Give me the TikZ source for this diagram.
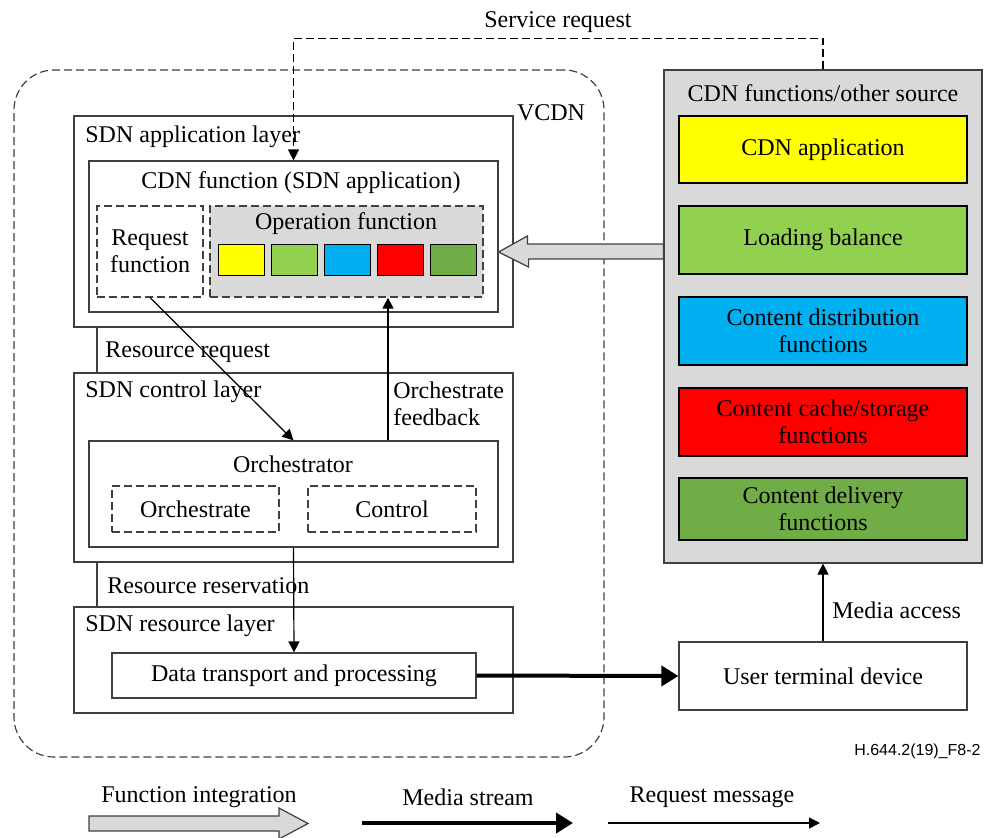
\documentclass[tikz,border=0pt]{standalone}
\usepackage{fontspec}
\setmainfont{Liberation Serif}
\newfontfamily\figsans{Liberation Sans}
\usetikzlibrary{arrows.meta,fit}
\definecolor{boxGrey}{RGB}{217,217,217}
\definecolor{lineGrey}{RGB}{64,64,64}
\definecolor{fnYellow}{RGB}{255,255,0}
\definecolor{fnLight}{RGB}{146,208,80}
\definecolor{fnCyan}{RGB}{0,176,240}
\definecolor{fnRed}{RGB}{255,0,0}
\definecolor{fnGreen}{RGB}{112,173,71}

\begin{document}
\begin{tikzpicture}[x=0.5pt,y=-0.5pt,
    font=\fontsize{12}{13.5}\selectfont,
    box/.style={draw=lineGrey, line width=0.6pt, inner sep=0pt},
    dbox/.style={box, dash pattern=on 4pt off 2pt},
    txt/.style={inner sep=0pt, align=center},
    req/.style={-{Triangle[length=5.5pt,width=5.5pt]}, line width=0.6pt},
    media/.style={-{Triangle[length=8.5pt,width=10pt]}, line width=2pt},
    intarrow/.style={draw=lineGrey, fill=boxGrey, line width=0.6pt}]
  \useasboundingbox (0,0) rectangle (984,837);

  \node[dbox, rounded corners=20pt, fit={(14,70)(604,757)}] (vcdn) {};
  \node[txt] (vcdnlbl) at (551,113) {VCDN};

  \node[box, fit={(74,116)(513,327)}] (applayer) {};
  \node[txt, anchor=west] (applbl) at (85,137) {SDN application layer};
  \node[box, fit={(89,161)(498,312)}] (cdnfunc) {};
  \node[txt] (cdnlbl) at (301,183) {CDN function (SDN application)};
  \node[dbox, fit={(97,206)(203,297)}] (reqfunc) {};
  \node[txt] (reqlbl) at (reqfunc.center) {Request\\function};
  \node[dbox, fill=boxGrey, fit={(210,206)(483,297)}] (opfunc) {};
  \node[txt] (oplbl) at (346,224) {Operation function};
  \foreach \c [count=\i from 0] in {fnYellow,fnLight,fnCyan,fnRed,fnGreen}
    \node[box, draw=black, fill=\c, minimum width=23pt, minimum height=15.5pt,
      anchor=north west] (op\i) at (218+53*\i,244) {};

  \node[box, fit={(74,373)(513,562)}] (ctrllayer) {};
  \node[txt, anchor=west] (ctrllbl) at (85,392) {SDN control layer};
  \node[box, fit={(89,441)(498,547)}] (orch) {};
  \node[txt] (orchlbl) at (293,464) {Orchestrator};
  \node[dbox, fit={(112,486)(279,532)}] (orchest) {};
  \node[txt] (orchestlbl) at (orchest.center) {Orchestrate};
  \node[dbox, fit={(308,486)(476,532)}] (ctrl) {};
  \node[txt] (ctrllbl2) at (ctrl.center) {Control};

  \node[box, fit={(74,607)(513,713)}] (reslayer) {};
  \node[txt, anchor=west] (reslbl) at (85,626) {SDN resource layer};
  \node[box, fit={(112,653)(476,698)}] (dtp) {};
  \node[txt] (dtplbl) at (dtp.center) {Data transport and processing};

  \node[box, fill=boxGrey, fit={(664,70)(982,563)}] (cdnsrc) {};
  \node[txt] (srclbl) at (823,93) {CDN functions/other source};
  \node[box, draw=black, fill=fnYellow, fit={(679,116)(967,183)}] (fapp) {};
  \node[txt] (fapplbl) at (fapp.center) {CDN application};
  \node[box, draw=black, fill=fnLight, fit={(679,206)(967,274)}] (fbal) {};
  \node[txt] (fballbl) at (fbal.center) {Loading balance};
  \node[box, draw=black, fill=fnCyan, fit={(679,297)(967,365)}] (fdist) {};
  \node[txt] (fdistlbl) at (fdist.center) {Content distribution\\functions};
  \node[box, draw=black, fill=fnRed, fit={(679,388)(967,456)}] (fcache) {};
  \node[txt] (fcachelbl) at (fcache.center) {Content cache/storage\\functions};
  \node[box, draw=black, fill=fnGreen, fit={(679,478)(967,540)}] (fdel) {};
  \node[txt] (fdellbl) at (fdel.center) {Content delivery\\functions};

  \node[box, fit={(679,642)(967,710)}] (userdev) {};
  \node[txt] (userlbl) at (userdev.center) {User terminal device};

  \draw[req, dash pattern=on 4pt off 2pt] (cdnsrc.north) -- ++(0,-31) -| (cdnfunc.north);
  \node[txt] (svclbl) at (558,22) {Service request};

  \draw[intarrow] (cdnsrc.west |- 0,244) -- ++(-136,0) -- ++(0,-8)
    -- (cdnfunc.east |- 0,252) -- ++(30,15) -- ++(0,-8) -- (cdnsrc.west |- 0,259) -- cycle;

  \draw[req] (reqfunc.south) -- (orch.north);
  \node[txt, anchor=west] (rrlbl) at (105,352) {Resource request};

  \coordinate (fb) at (388,0);
  \draw[req] (orch.north -| fb) -- (opfunc.south -| fb);
  \node[txt, anchor=west, align=left] (fblbl) at (393,404) {Orchestrate\\feedback};

  \draw[req] (orch.south) -- (dtp.north);
  \node[txt, anchor=west] (rsvlbl) at (107,586) {Resource reservation};

  \coordinate (lk) at (97,0);
  \draw[lineGrey, line width=0.6pt] (applayer.south -| lk) -- (ctrllayer.north -| lk);
  \draw[lineGrey, line width=0.6pt] (ctrllayer.south -| lk) -- (reslayer.north -| lk);

  \draw[media] (dtp.east) -- (userdev.west);
  \draw[req] (userdev.north) -- (cdnsrc.south);
  \node[txt, anchor=west] (malbl) at (832,610) {Media access};

  \node[txt, anchor=east, font=\figsans\fontsize{8}{9}\selectfont] (figid) at (981,751) {H.644.2(19)\_F8-2};

  \coordinate (lgfiA) at (89,823.5);
  \node[txt] (lgfi) at (199,797) {Function integration};
  \draw[intarrow] (lgfiA) -- ++(0,-7.5) -- ++(190,0) -- ++(0,-8) -- ++(29,15.5)
    -- ++(-29,15.5) -- ++(0,-8) -- ++(-190,0) -- cycle;

  \coordinate (lgmsA) at (362,823);
  \coordinate (lgmsB) at (573,823);
  \node[txt] (lgms) at (468,797) {Media stream};
  \draw[media] (lgmsA) -- (lgmsB);

  \coordinate (lgrmA) at (608,823);
  \coordinate (lgrmB) at (820,823);
  \node[txt] (lgrm) at (712,797) {Request message};
  \draw[req] (lgrmA) -- (lgrmB);
\end{tikzpicture}
\end{document}
